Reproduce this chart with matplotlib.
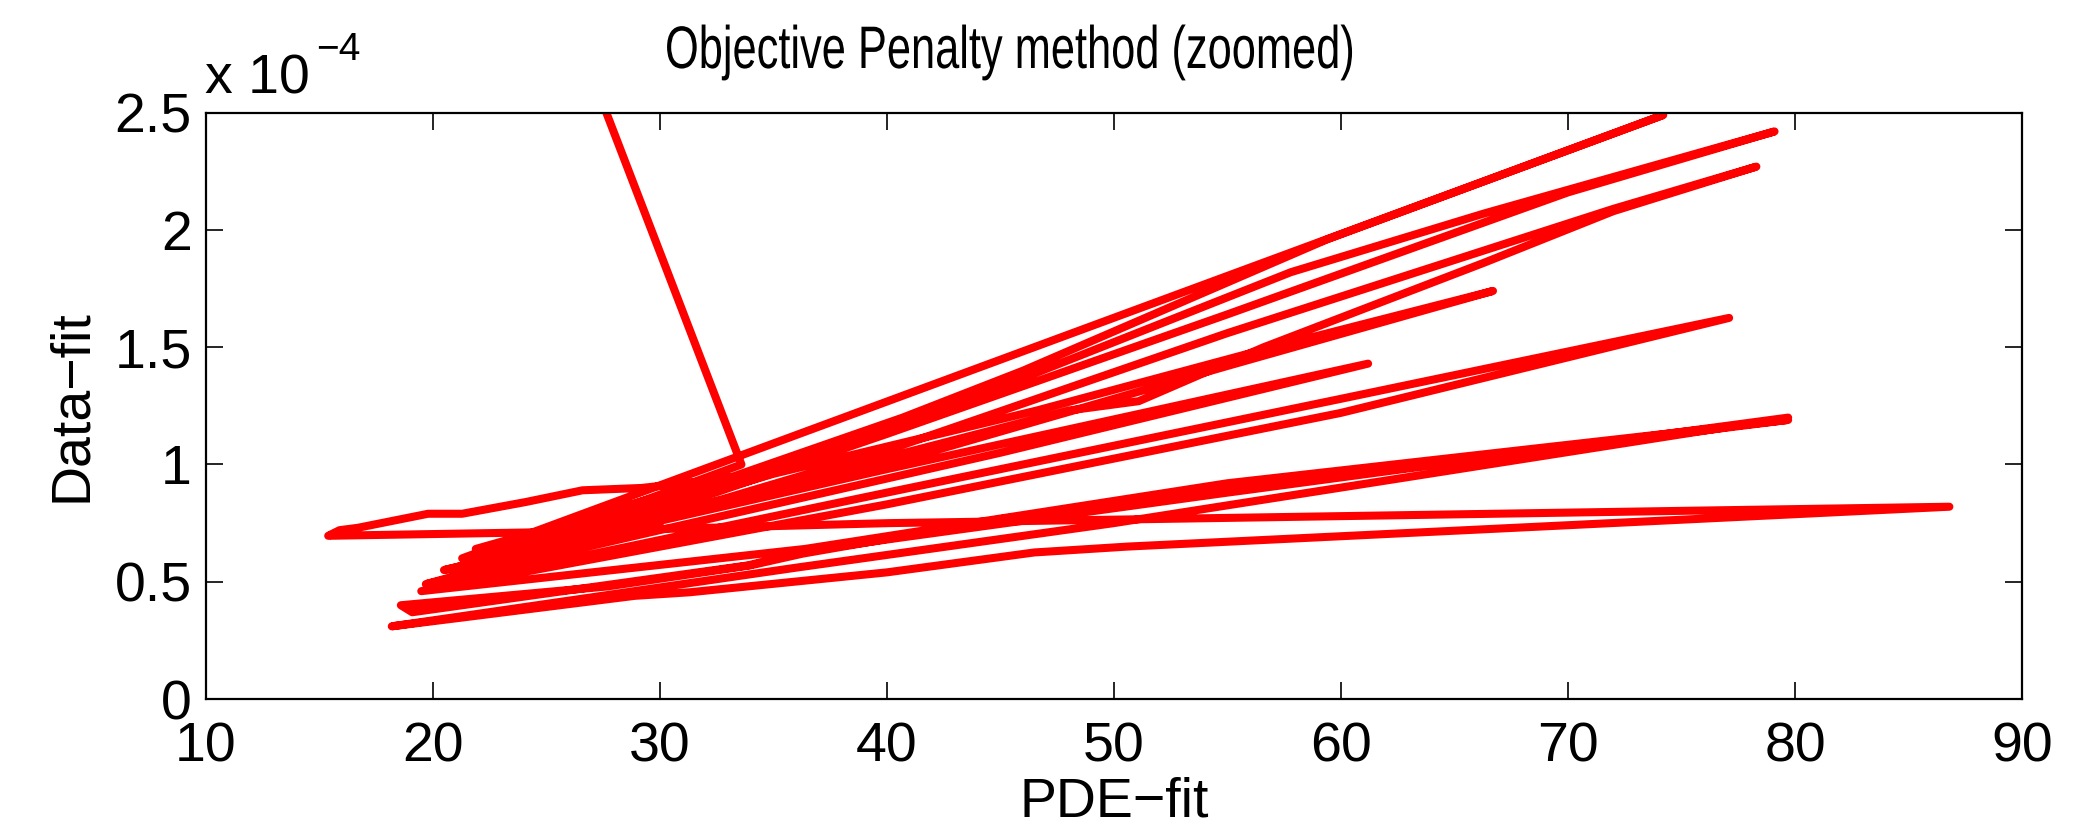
import numpy as np
import matplotlib.pyplot as plt
from matplotlib.ticker import FuncFormatter
from matplotlib.textpath import TextPath
from matplotlib.patches import PathPatch
from matplotlib.font_manager import FontProperties
from matplotlib.transforms import Affine2D, IdentityTransform

plt.rcParams['font.family'] = ['Liberation Sans', 'DejaVu Sans']

# path of the iterates (PDE-fit, Data-fit in units of 1e-4)
pde_fit = [21.7, 33.6, 28.0, 21.3,
           74.2,
           59.4, 46.0, 40.7, 30.0, 23.0,
           35.0, 45.0, 57.8, 66.3, 79.1,
           70.0, 55.0, 40.0, 24.0,
           40.0, 55.0, 72.0, 78.3,
           72.0, 66.3, 56.6, 51.1, 48.0, 40.0, 30.0, 21.9,
           27.0, 33.0, 22.5, 29.0, 35.0, 23.5, 31.0, 21.0,
           35.0, 46.6, 56.6, 66.7,
           55.0, 40.0, 20.5,
           40.0, 61.2,
           45.0, 30.0, 19.7,
           26.0, 32.0, 20.8, 30.0, 20.2,
           40.0, 60.0, 77.1,
           60.0, 40.0, 19.5,
           36.4, 55.0, 79.7,
           60.0, 45.2, 36.3, 34.0, 27.7, 18.6,
           19.1, 25.0, 33.9, 36.4, 40.0, 55.0, 79.7,
           50.0, 36.0, 18.2,
           21.1, 28.9, 31.3, 40.0, 46.5, 50.6, 86.8,
           40.1, 24.1, 15.4,
           15.9, 16.7, 19.8, 21.3, 24.1, 26.6, 29.2, 32.0]
data_fit = [4.00, 1.00, 0.80, 0.60,
            2.49,
            1.96, 1.40, 1.20, 0.84, 0.62,
            1.00, 1.33, 1.82, 2.07, 2.42,
            2.16, 1.64, 1.13, 0.60,
            1.06, 1.56, 2.09, 2.27,
            2.08, 1.86, 1.50, 1.27, 1.23, 1.03, 0.78, 0.64,
            0.78, 0.95, 0.62, 0.82, 0.98, 0.60, 0.80, 0.56,
            0.96, 1.23, 1.49, 1.74,
            1.42, 1.00, 0.55,
            0.98, 1.43,
            1.05, 0.72, 0.49,
            0.66, 0.82, 0.52, 0.74, 0.48,
            0.88, 1.28, 1.625,
            1.22, 0.83, 0.46,
            0.64, 0.92, 1.19,
            0.95, 0.77, 0.62, 0.57, 0.48, 0.40,
            0.37, 0.45, 0.57, 0.63, 0.68, 0.88, 1.20,
            0.75, 0.56, 0.31,
            0.345, 0.44, 0.455, 0.54, 0.625, 0.65, 0.82,
            0.75, 0.71, 0.696,
            0.72, 0.73, 0.79, 0.79, 0.84, 0.89, 0.90, 0.93]

x_ticks = [10, 20, 30, 40, 50, 60, 70, 80, 90]
y_ticks = [0, 0.5, 1, 1.5, 2, 2.5]

W, H, DPI = 2085, 831, 100
fig = plt.figure(figsize=(W / DPI, H / DPI), dpi=DPI)
ax = fig.add_axes([0.0986, 0.1588, 0.8712, 0.7056])

ax.plot(pde_fit, np.array(data_fit) * 1e-4, color='#ff0000', lw=5.8,
        solid_capstyle='round', solid_joinstyle='round')

ax.set_xlim(10, 90)
ax.set_ylim(0, 2.5e-4)
ax.set_xticks(x_ticks)
ax.set_yticks(np.array(y_ticks) * 1e-4)
ax.yaxis.set_major_formatter(FuncFormatter(lambda v, p: '%g' % round(v * 1e4, 3)))

ax.tick_params(direction='in', length=12, width=1.2, labelsize=40,
               top=True, right=True)
ax.tick_params(axis='x', pad=16)
ax.tick_params(axis='y', pad=10)
for s in ax.spines.values():
    s.set_linewidth(1.6)

ax.set_xlabel('PDE\u2212fit', fontsize=40, labelpad=2)
ax.set_ylabel('Data\u2212fit', fontsize=40, labelpad=12)

# title is drawn in a condensed face in the reference: squeeze a text path
tp = TextPath((0, 0), 'Objective Penalty method (zoomed)', size=60,
              prop=FontProperties(family='Liberation Sans'))
tw = tp.get_extents().width
sx = 685 / tw
title = PathPatch(tp, color='black', lw=0,
                  transform=Affine2D().scale(sx, 1).translate(665, H - 68) + IdentityTransform())
fig.add_artist(title)

fig.text(205 / W, 1 - 94 / H, 'x 10', fontsize=40, ha='left', va='baseline')
fig.text(316 / W, 1 - 60 / H, '\u22124', fontsize=28, ha='left', va='baseline')

fig.savefig('out.png', dpi=DPI)
